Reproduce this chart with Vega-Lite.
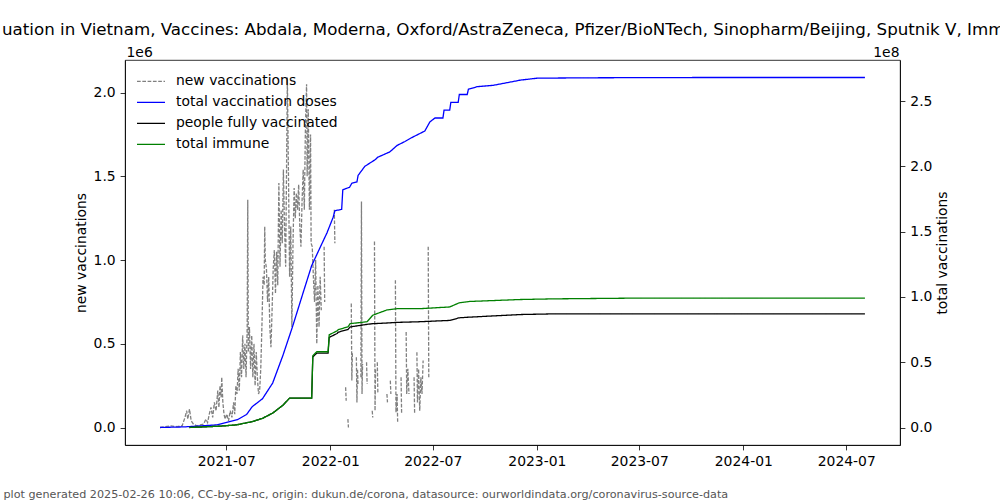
{
  "$schema": "https://vega.github.io/schema/vega-lite/v6.json",
  "width": 775,
  "height": 385,
  "autosize": {"type": "none"},
  "padding": {"left": 125, "top": 60, "right": 100, "bottom": 55},
  "background": "white",
  "title": {
    "text": "uation in Vietnam, Vaccines: Abdala, Moderna, Oxford/AstraZeneca, Pfizer/BioNTech, Sinopharm/Beijing, Sputnik V, Imm",
    "anchor": "start",
    "frame": "group",
    "dx": -123,
    "offset": 6,
    "font": "DejaVu Sans",
    "fontSize": 16.7,
    "fontWeight": "normal",
    "color": "black"
  },
  "datasets": {
    "vax": [
      {"date": "2021-03-06", "series": "new vaccinations", "value": 0},
      {"date": "2021-03-15", "series": "new vaccinations", "value": 5000},
      {"date": "2021-03-25", "series": "new vaccinations", "value": 10000},
      {"date": "2021-04-05", "series": "new vaccinations", "value": 5000},
      {"date": "2021-04-14", "series": "new vaccinations", "value": 10000},
      {"date": "2021-04-16", "series": "new vaccinations", "value": 30000},
      {"date": "2021-04-19", "series": "new vaccinations", "value": 60000},
      {"date": "2021-04-22", "series": "new vaccinations", "value": 100000},
      {"date": "2021-04-24", "series": "new vaccinations", "value": 50000},
      {"date": "2021-04-27", "series": "new vaccinations", "value": 110000},
      {"date": "2021-04-30", "series": "new vaccinations", "value": 40000},
      {"date": "2021-05-04", "series": "new vaccinations", "value": 20000},
      {"date": "2021-05-10", "series": "new vaccinations", "value": 10000},
      {"date": "2021-05-16", "series": "new vaccinations", "value": 15000},
      {"date": "2021-05-22", "series": "new vaccinations", "value": 20000},
      {"date": "2021-05-26", "series": "new vaccinations", "value": 50000},
      {"date": "2021-05-29", "series": "new vaccinations", "value": 30000},
      {"date": "2021-06-01", "series": "new vaccinations", "value": 80000},
      {"date": "2021-06-04", "series": "new vaccinations", "value": 120000},
      {"date": "2021-06-07", "series": "new vaccinations", "value": 60000},
      {"date": "2021-06-10", "series": "new vaccinations", "value": 150000},
      {"date": "2021-06-13", "series": "new vaccinations", "value": 100000},
      {"date": "2021-06-16", "series": "new vaccinations", "value": 220000},
      {"date": "2021-06-18", "series": "new vaccinations", "value": 120000},
      {"date": "2021-06-20", "series": "new vaccinations", "value": 250000},
      {"date": "2021-06-22", "series": "new vaccinations", "value": 180000},
      {"date": "2021-06-23", "series": "new vaccinations", "value": 300000},
      {"date": "2021-06-25", "series": "new vaccinations", "value": 150000},
      {"date": "2021-06-27", "series": "new vaccinations", "value": 80000},
      {"date": "2021-06-29", "series": "new vaccinations", "value": 50000},
      {"date": "2021-07-02", "series": "new vaccinations", "value": 80000},
      {"date": "2021-07-05", "series": "new vaccinations", "value": 40000},
      {"date": "2021-07-08", "series": "new vaccinations", "value": 100000},
      {"date": "2021-07-11", "series": "new vaccinations", "value": 60000},
      {"date": "2021-07-14", "series": "new vaccinations", "value": 150000},
      {"date": "2021-07-16", "series": "new vaccinations", "value": 80000},
      {"date": "2021-07-18", "series": "new vaccinations", "value": 250000},
      {"date": "2021-07-20", "series": "new vaccinations", "value": 200000},
      {"date": "2021-07-22", "series": "new vaccinations", "value": 350000},
      {"date": "2021-07-24", "series": "new vaccinations", "value": 220000},
      {"date": "2021-07-26", "series": "new vaccinations", "value": 450000},
      {"date": "2021-07-28", "series": "new vaccinations", "value": 300000},
      {"date": "2021-07-30", "series": "new vaccinations", "value": 550000},
      {"date": "2021-08-01", "series": "new vaccinations", "value": 350000},
      {"date": "2021-08-03", "series": "new vaccinations", "value": 500000},
      {"date": "2021-08-05", "series": "new vaccinations", "value": 300000},
      {"date": "2021-08-07", "series": "new vaccinations", "value": 600000},
      {"date": "2021-08-08", "series": "new vaccinations", "value": 1360000},
      {"date": "2021-08-09", "series": "new vaccinations", "value": 450000},
      {"date": "2021-08-11", "series": "new vaccinations", "value": 600000},
      {"date": "2021-08-13", "series": "new vaccinations", "value": 350000},
      {"date": "2021-08-15", "series": "new vaccinations", "value": 550000},
      {"date": "2021-08-17", "series": "new vaccinations", "value": 300000},
      {"date": "2021-08-19", "series": "new vaccinations", "value": 500000},
      {"date": "2021-08-21", "series": "new vaccinations", "value": 250000},
      {"date": "2021-08-23", "series": "new vaccinations", "value": 450000},
      {"date": "2021-08-25", "series": "new vaccinations", "value": 300000},
      {"date": "2021-08-27", "series": "new vaccinations", "value": 200000},
      {"date": "2021-08-29", "series": "new vaccinations", "value": 220000},
      {"date": "2021-08-31", "series": "new vaccinations", "value": 350000},
      {"date": "2021-09-02", "series": "new vaccinations", "value": 600000},
      {"date": "2021-09-04", "series": "new vaccinations", "value": 900000},
      {"date": "2021-09-06", "series": "new vaccinations", "value": 850000},
      {"date": "2021-09-07", "series": "new vaccinations", "value": 1200000},
      {"date": "2021-09-08", "series": "new vaccinations", "value": 1000000},
      {"date": "2021-09-10", "series": "new vaccinations", "value": 950000},
      {"date": "2021-09-12", "series": "new vaccinations", "value": 750000},
      {"date": "2021-09-14", "series": "new vaccinations", "value": 900000},
      {"date": "2021-09-16", "series": "new vaccinations", "value": 600000},
      {"date": "2021-09-18", "series": "new vaccinations", "value": 480000},
      {"date": "2021-09-20", "series": "new vaccinations", "value": 700000},
      {"date": "2021-09-22", "series": "new vaccinations", "value": 950000},
      {"date": "2021-09-24", "series": "new vaccinations", "value": 1060000},
      {"date": "2021-09-26", "series": "new vaccinations", "value": 800000},
      {"date": "2021-09-28", "series": "new vaccinations", "value": 1050000},
      {"date": "2021-09-30", "series": "new vaccinations", "value": 850000},
      {"date": "2021-10-02", "series": "new vaccinations", "value": 1460000},
      {"date": "2021-10-04", "series": "new vaccinations", "value": 960000},
      {"date": "2021-10-06", "series": "new vaccinations", "value": 1300000},
      {"date": "2021-10-08", "series": "new vaccinations", "value": 1100000},
      {"date": "2021-10-10", "series": "new vaccinations", "value": 1540000},
      {"date": "2021-10-12", "series": "new vaccinations", "value": 1200000},
      {"date": "2021-10-14", "series": "new vaccinations", "value": 960000},
      {"date": "2021-10-16", "series": "new vaccinations", "value": 1700000},
      {"date": "2021-10-17", "series": "new vaccinations", "value": 2090000},
      {"date": "2021-10-19", "series": "new vaccinations", "value": 1500000},
      {"date": "2021-10-21", "series": "new vaccinations", "value": 900000},
      {"date": "2021-10-23", "series": "new vaccinations", "value": 1200000},
      {"date": "2021-10-25", "series": "new vaccinations", "value": 600000},
      {"date": "2021-10-27", "series": "new vaccinations", "value": 1100000},
      {"date": "2021-10-29", "series": "new vaccinations", "value": 1430000},
      {"date": "2021-10-31", "series": "new vaccinations", "value": 1250000},
      {"date": "2021-11-02", "series": "new vaccinations", "value": 1400000},
      {"date": "2021-11-04", "series": "new vaccinations", "value": 1300000},
      {"date": "2021-11-06", "series": "new vaccinations", "value": 1450000},
      {"date": "2021-11-08", "series": "new vaccinations", "value": 1200000},
      {"date": "2021-11-10", "series": "new vaccinations", "value": 1080000},
      {"date": "2021-11-12", "series": "new vaccinations", "value": 1350000},
      {"date": "2021-11-14", "series": "new vaccinations", "value": 1540000},
      {"date": "2021-11-16", "series": "new vaccinations", "value": 1300000},
      {"date": "2021-11-18", "series": "new vaccinations", "value": 1800000},
      {"date": "2021-11-20", "series": "new vaccinations", "value": 2050000},
      {"date": "2021-11-21", "series": "new vaccinations", "value": 1500000},
      {"date": "2021-11-23", "series": "new vaccinations", "value": 1900000},
      {"date": "2021-11-25", "series": "new vaccinations", "value": 1300000},
      {"date": "2021-11-27", "series": "new vaccinations", "value": 1750000},
      {"date": "2021-11-28", "series": "new vaccinations", "value": 1100000},
      {"date": "2021-11-30", "series": "new vaccinations", "value": 1080000},
      {"date": "2021-12-02", "series": "new vaccinations", "value": 900000},
      {"date": "2021-12-04", "series": "new vaccinations", "value": 750000},
      {"date": "2021-12-06", "series": "new vaccinations", "value": 1000000},
      {"date": "2021-12-08", "series": "new vaccinations", "value": 500000},
      {"date": "2021-12-10", "series": "new vaccinations", "value": 850000},
      {"date": "2021-12-12", "series": "new vaccinations", "value": 600000},
      {"date": "2021-12-14", "series": "new vaccinations", "value": 900000},
      {"date": "2021-12-16", "series": "new vaccinations", "value": 700000},
      {"date": "2021-12-17", "series": "new vaccinations", "value": null},
      {"date": "2021-12-21", "series": "new vaccinations", "value": 1080000},
      {"date": "2021-12-22", "series": "new vaccinations", "value": 750000},
      {"date": "2021-12-23", "series": "new vaccinations", "value": null},
      {"date": "2022-01-08", "series": "new vaccinations", "value": 1300000},
      {"date": "2022-01-09", "series": "new vaccinations", "value": 1100000},
      {"date": "2022-01-10", "series": "new vaccinations", "value": null},
      {"date": "2022-01-28", "series": "new vaccinations", "value": 240000},
      {"date": "2022-01-29", "series": "new vaccinations", "value": 160000},
      {"date": "2022-01-30", "series": "new vaccinations", "value": null},
      {"date": "2022-02-01", "series": "new vaccinations", "value": 50000},
      {"date": "2022-02-02", "series": "new vaccinations", "value": 0},
      {"date": "2022-02-03", "series": "new vaccinations", "value": null},
      {"date": "2022-02-07", "series": "new vaccinations", "value": 740000},
      {"date": "2022-02-08", "series": "new vaccinations", "value": 280000},
      {"date": "2022-02-09", "series": "new vaccinations", "value": 450000},
      {"date": "2022-02-10", "series": "new vaccinations", "value": null},
      {"date": "2022-02-16", "series": "new vaccinations", "value": 420000},
      {"date": "2022-02-17", "series": "new vaccinations", "value": 150000},
      {"date": "2022-02-18", "series": "new vaccinations", "value": 350000},
      {"date": "2022-02-19", "series": "new vaccinations", "value": 250000},
      {"date": "2022-02-20", "series": "new vaccinations", "value": null},
      {"date": "2022-02-24", "series": "new vaccinations", "value": 300000},
      {"date": "2022-02-25", "series": "new vaccinations", "value": 1350000},
      {"date": "2022-02-26", "series": "new vaccinations", "value": 200000},
      {"date": "2022-02-27", "series": "new vaccinations", "value": 380000},
      {"date": "2022-02-28", "series": "new vaccinations", "value": null},
      {"date": "2022-03-06", "series": "new vaccinations", "value": 390000},
      {"date": "2022-03-07", "series": "new vaccinations", "value": 260000},
      {"date": "2022-03-08", "series": "new vaccinations", "value": null},
      {"date": "2022-03-16", "series": "new vaccinations", "value": 100000},
      {"date": "2022-03-17", "series": "new vaccinations", "value": 60000},
      {"date": "2022-03-18", "series": "new vaccinations", "value": null},
      {"date": "2022-03-20", "series": "new vaccinations", "value": 1110000},
      {"date": "2022-03-21", "series": "new vaccinations", "value": 100000},
      {"date": "2022-03-22", "series": "new vaccinations", "value": 350000},
      {"date": "2022-03-23", "series": "new vaccinations", "value": null},
      {"date": "2022-03-25", "series": "new vaccinations", "value": 390000},
      {"date": "2022-03-26", "series": "new vaccinations", "value": 200000},
      {"date": "2022-03-27", "series": "new vaccinations", "value": null},
      {"date": "2022-04-11", "series": "new vaccinations", "value": 200000},
      {"date": "2022-04-12", "series": "new vaccinations", "value": 150000},
      {"date": "2022-04-13", "series": "new vaccinations", "value": null},
      {"date": "2022-04-17", "series": "new vaccinations", "value": 280000},
      {"date": "2022-04-18", "series": "new vaccinations", "value": 200000},
      {"date": "2022-04-19", "series": "new vaccinations", "value": null},
      {"date": "2022-04-26", "series": "new vaccinations", "value": 880000},
      {"date": "2022-04-27", "series": "new vaccinations", "value": 90000},
      {"date": "2022-04-29", "series": "new vaccinations", "value": 200000},
      {"date": "2022-04-30", "series": "new vaccinations", "value": 30000},
      {"date": "2022-05-01", "series": "new vaccinations", "value": null},
      {"date": "2022-05-06", "series": "new vaccinations", "value": 300000},
      {"date": "2022-05-07", "series": "new vaccinations", "value": 80000},
      {"date": "2022-05-08", "series": "new vaccinations", "value": null},
      {"date": "2022-05-15", "series": "new vaccinations", "value": 570000},
      {"date": "2022-05-16", "series": "new vaccinations", "value": 200000},
      {"date": "2022-05-18", "series": "new vaccinations", "value": 350000},
      {"date": "2022-05-20", "series": "new vaccinations", "value": 200000},
      {"date": "2022-05-21", "series": "new vaccinations", "value": null},
      {"date": "2022-05-29", "series": "new vaccinations", "value": 300000},
      {"date": "2022-05-30", "series": "new vaccinations", "value": 80000},
      {"date": "2022-05-31", "series": "new vaccinations", "value": null},
      {"date": "2022-06-03", "series": "new vaccinations", "value": 450000},
      {"date": "2022-06-04", "series": "new vaccinations", "value": 150000},
      {"date": "2022-06-06", "series": "new vaccinations", "value": 350000},
      {"date": "2022-06-08", "series": "new vaccinations", "value": 100000},
      {"date": "2022-06-10", "series": "new vaccinations", "value": 300000},
      {"date": "2022-06-12", "series": "new vaccinations", "value": 200000},
      {"date": "2022-06-14", "series": "new vaccinations", "value": 400000},
      {"date": "2022-06-15", "series": "new vaccinations", "value": null},
      {"date": "2022-06-23", "series": "new vaccinations", "value": 1080000},
      {"date": "2022-06-24", "series": "new vaccinations", "value": 300000},

      {"date": "2021-03-06", "series": "total vaccination doses", "value": 0},
      {"date": "2021-04-19", "series": "total vaccination doses", "value": 500000},
      {"date": "2021-06-14", "series": "total vaccination doses", "value": 2000000},
      {"date": "2021-07-02", "series": "total vaccination doses", "value": 4000000},
      {"date": "2021-07-21", "series": "total vaccination doses", "value": 6000000},
      {"date": "2021-08-06", "series": "total vaccination doses", "value": 10000000},
      {"date": "2021-08-16", "series": "total vaccination doses", "value": 16000000},
      {"date": "2021-09-03", "series": "total vaccination doses", "value": 22000000},
      {"date": "2021-09-21", "series": "total vaccination doses", "value": 34000000},
      {"date": "2021-10-09", "series": "total vaccination doses", "value": 55000000},
      {"date": "2021-10-26", "series": "total vaccination doses", "value": 77000000},
      {"date": "2021-11-13", "series": "total vaccination doses", "value": 102000000},
      {"date": "2021-11-29", "series": "total vaccination doses", "value": 124000000},
      {"date": "2021-12-13", "series": "total vaccination doses", "value": 137000000},
      {"date": "2021-12-26", "series": "total vaccination doses", "value": 149000000},
      {"date": "2022-01-06", "series": "total vaccination doses", "value": 161000000},
      {"date": "2022-01-09", "series": "total vaccination doses", "value": 166000000},
      {"date": "2022-01-21", "series": "total vaccination doses", "value": 167000000},
      {"date": "2022-01-23", "series": "total vaccination doses", "value": 182000000},
      {"date": "2022-02-04", "series": "total vaccination doses", "value": 184000000},
      {"date": "2022-02-08", "series": "total vaccination doses", "value": 187000000},
      {"date": "2022-02-17", "series": "total vaccination doses", "value": 188000000},
      {"date": "2022-02-19", "series": "total vaccination doses", "value": 193000000},
      {"date": "2022-03-03", "series": "total vaccination doses", "value": 200000000},
      {"date": "2022-03-21", "series": "total vaccination doses", "value": 205000000},
      {"date": "2022-03-26", "series": "total vaccination doses", "value": 207000000},
      {"date": "2022-04-16", "series": "total vaccination doses", "value": 211000000},
      {"date": "2022-04-29", "series": "total vaccination doses", "value": 216000000},
      {"date": "2022-05-13", "series": "total vaccination doses", "value": 219000000},
      {"date": "2022-05-25", "series": "total vaccination doses", "value": 222000000},
      {"date": "2022-06-17", "series": "total vaccination doses", "value": 227000000},
      {"date": "2022-06-26", "series": "total vaccination doses", "value": 234000000},
      {"date": "2022-07-05", "series": "total vaccination doses", "value": 237000000},
      {"date": "2022-07-19", "series": "total vaccination doses", "value": 237000000},
      {"date": "2022-07-21", "series": "total vaccination doses", "value": 243000000},
      {"date": "2022-07-31", "series": "total vaccination doses", "value": 243000000},
      {"date": "2022-08-02", "series": "total vaccination doses", "value": 249000000},
      {"date": "2022-08-15", "series": "total vaccination doses", "value": 249000000},
      {"date": "2022-08-17", "series": "total vaccination doses", "value": 255000000},
      {"date": "2022-08-31", "series": "total vaccination doses", "value": 255000000},
      {"date": "2022-09-02", "series": "total vaccination doses", "value": 259000000},
      {"date": "2022-09-18", "series": "total vaccination doses", "value": 261000000},
      {"date": "2022-10-16", "series": "total vaccination doses", "value": 262000000},
      {"date": "2022-12-03", "series": "total vaccination doses", "value": 266000000},
      {"date": "2023-01-02", "series": "total vaccination doses", "value": 267500000},
      {"date": "2023-04-23", "series": "total vaccination doses", "value": 267800000},
      {"date": "2023-10-19", "series": "total vaccination doses", "value": 268000000},
      {"date": "2024-08-03", "series": "total vaccination doses", "value": 268000000},

      {"date": "2021-04-27", "series": "people fully vaccinated", "value": 0},
      {"date": "2021-06-19", "series": "people fully vaccinated", "value": 1000000},
      {"date": "2021-07-19", "series": "people fully vaccinated", "value": 2000000},
      {"date": "2021-08-16", "series": "people fully vaccinated", "value": 4500000},
      {"date": "2021-09-03", "series": "people fully vaccinated", "value": 7000000},
      {"date": "2021-09-21", "series": "people fully vaccinated", "value": 11000000},
      {"date": "2021-10-09", "series": "people fully vaccinated", "value": 17000000},
      {"date": "2021-10-21", "series": "people fully vaccinated", "value": 22500000},
      {"date": "2021-11-29", "series": "people fully vaccinated", "value": 22500000},
      {"date": "2021-12-01", "series": "people fully vaccinated", "value": 54000000},
      {"date": "2021-12-08", "series": "people fully vaccinated", "value": 57000000},
      {"date": "2021-12-28", "series": "people fully vaccinated", "value": 57000000},
      {"date": "2021-12-30", "series": "people fully vaccinated", "value": 69000000},
      {"date": "2022-01-13", "series": "people fully vaccinated", "value": 72000000},
      {"date": "2022-01-15", "series": "people fully vaccinated", "value": 73000000},
      {"date": "2022-02-01", "series": "people fully vaccinated", "value": 75000000},
      {"date": "2022-02-05", "series": "people fully vaccinated", "value": 77000000},
      {"date": "2022-03-07", "series": "people fully vaccinated", "value": 79000000},
      {"date": "2022-03-17", "series": "people fully vaccinated", "value": 79500000},
      {"date": "2022-04-11", "series": "people fully vaccinated", "value": 80000000},
      {"date": "2022-04-29", "series": "people fully vaccinated", "value": 80500000},
      {"date": "2022-06-09", "series": "people fully vaccinated", "value": 81000000},
      {"date": "2022-07-31", "series": "people fully vaccinated", "value": 82000000},
      {"date": "2022-08-17", "series": "people fully vaccinated", "value": 84000000},
      {"date": "2022-09-04", "series": "people fully vaccinated", "value": 84500000},
      {"date": "2022-12-03", "series": "people fully vaccinated", "value": 86500000},
      {"date": "2023-01-30", "series": "people fully vaccinated", "value": 87000000},
      {"date": "2024-08-03", "series": "people fully vaccinated", "value": 87000000},

      {"date": "2021-04-27", "series": "total immune", "value": 0},
      {"date": "2021-06-19", "series": "total immune", "value": 1000000},
      {"date": "2021-07-19", "series": "total immune", "value": 2000000},
      {"date": "2021-08-16", "series": "total immune", "value": 4500000},
      {"date": "2021-09-03", "series": "total immune", "value": 7000000},
      {"date": "2021-09-21", "series": "total immune", "value": 11000000},
      {"date": "2021-10-09", "series": "total immune", "value": 17000000},
      {"date": "2021-10-21", "series": "total immune", "value": 22500000},
      {"date": "2021-11-29", "series": "total immune", "value": 22500000},
      {"date": "2021-12-01", "series": "total immune", "value": 55000000},
      {"date": "2021-12-08", "series": "total immune", "value": 58000000},
      {"date": "2021-12-28", "series": "total immune", "value": 58000000},
      {"date": "2021-12-30", "series": "total immune", "value": 71000000},
      {"date": "2022-01-13", "series": "total immune", "value": 74000000},
      {"date": "2022-01-15", "series": "total immune", "value": 75000000},
      {"date": "2022-02-01", "series": "total immune", "value": 77000000},
      {"date": "2022-02-05", "series": "total immune", "value": 79500000},
      {"date": "2022-03-07", "series": "total immune", "value": 81000000},
      {"date": "2022-03-17", "series": "total immune", "value": 86000000},
      {"date": "2022-04-11", "series": "total immune", "value": 90000000},
      {"date": "2022-04-29", "series": "total immune", "value": 91000000},
      {"date": "2022-06-09", "series": "total immune", "value": 91000000},
      {"date": "2022-07-31", "series": "total immune", "value": 92300000},
      {"date": "2022-08-17", "series": "total immune", "value": 95500000},
      {"date": "2022-09-04", "series": "total immune", "value": 96500000},
      {"date": "2022-12-03", "series": "total immune", "value": 98000000},
      {"date": "2023-01-30", "series": "total immune", "value": 98500000},
      {"date": "2023-06-08", "series": "total immune", "value": 99000000},
      {"date": "2024-08-03", "series": "total immune", "value": 99000000}
    ]
  },
  "data": {"name": "vax"},
  "encoding": {
    "x": {
      "field": "date",
      "type": "temporal",
      "scale": {
        "type": "utc",
        "domain": [
          {"year": 2021, "month": 1, "date": 3, "utc": true},
          {"year": 2024, "month": 10, "date": 4, "utc": true}
        ]
      },
      "axis": {
        "values": [
          {"year": 2021, "month": 7, "date": 1, "utc": true},
          {"year": 2022, "month": 1, "date": 1, "utc": true},
          {"year": 2022, "month": 7, "date": 1, "utc": true},
          {"year": 2023, "month": 1, "date": 1, "utc": true},
          {"year": 2023, "month": 7, "date": 1, "utc": true},
          {"year": 2024, "month": 1, "date": 1, "utc": true},
          {"year": 2024, "month": 7, "date": 1, "utc": true}
        ],
        "labelExpr": "utcFormat(datum.value, '%Y-%m')",
        "labelFlush": false,
        "labelOverlap": false,
        "title": "plot generated 2025-02-26 10:06, CC-by-sa-nc, origin: dukun.de/corona, datasource: ourworldindata.org/coronavirus-source-data",
        "titleX": -122,
        "titleY": 49,
        "titleAlign": "left",
        "titleBaseline": "middle",
        "titleFontSize": 11.2,
        "titleColor": "#555555"
      }
    },
    "color": {
      "field": "series",
      "type": "nominal",
      "scale": {
        "domain": ["new vaccinations", "total vaccination doses", "people fully vaccinated", "total immune"],
        "range": ["#808080", "#0000ff", "#000000", "#008000"]
      },
      "legend": {"title": null, "orient": "top-left"}
    },
    "strokeDash": {
      "field": "series",
      "type": "nominal",
      "scale": {
        "domain": ["new vaccinations", "total vaccination doses", "people fully vaccinated", "total immune"],
        "range": [[3.7, 1.6], [1, 0], [1, 0], [1, 0]]
      },
      "legend": {"title": null, "orient": "top-left"}
    }
  },
  "layer": [
    {
      "layer": [
        {
          "transform": [{"filter": "datum.series === 'new vaccinations'"}],
          "mark": {"type": "line", "strokeWidth": 1.3, "invalid": "break-paths-show-domains"},
          "encoding": {
            "y": {
              "field": "value",
              "type": "quantitative",
              "scale": {"domain": [-104500, 2194500], "nice": false, "zero": false},
              "axis": {
                "orient": "left",
                "values": [0, 500000, 1000000, 1500000, 2000000],
                "labelExpr": "format(datum.value / 1000000, '.1f')",
                "title": "new vaccinations",
                "titlePadding": 5
              }
            }
          }
        },
        {
          "transform": [{"filter": "false"}],
          "mark": {"type": "line"},
          "encoding": {
            "y": {
              "field": "value",
              "type": "quantitative",
              "axis": {
                "orient": "left",
                "title": "1e6",
                "titleAngle": 0,
                "titleAlign": "left",
                "titleBaseline": "alphabetic",
                "titleX": 1,
                "titleY": -4,
                "labels": false,
                "ticks": false,
                "domain": false
              }
            }
          }
        }
      ],
      "resolve": {"axis": {"y": "independent"}}
    },
    {
      "layer": [
        {
          "transform": [{"filter": "datum.series === 'total vaccination doses'"}],
          "mark": {"type": "line", "strokeWidth": 1.3},
          "encoding": {
            "y": {
              "field": "value",
              "type": "quantitative",
              "scale": {"domain": [-13400000, 281400000], "nice": false, "zero": false},
              "axis": {
                "orient": "right",
                "values": [0, 50000000, 100000000, 150000000, 200000000, 250000000],
                "labelExpr": "format(datum.value / 100000000, '.1f')",
                "title": "total vaccinations",
                "titleAngle": 270,
                "titlePadding": 18
              }
            }
          }
        },
        {
          "transform": [{"filter": "datum.series === 'people fully vaccinated'"}],
          "mark": {"type": "line", "strokeWidth": 1.3},
          "encoding": {
            "y": {"field": "value", "type": "quantitative", "axis": null}
          }
        },
        {
          "transform": [{"filter": "datum.series === 'total immune'"}],
          "mark": {"type": "line", "strokeWidth": 1.3},
          "encoding": {
            "y": {"field": "value", "type": "quantitative", "axis": null}
          }
        },
        {
          "transform": [{"filter": "false"}],
          "mark": {"type": "line"},
          "encoding": {
            "y": {
              "field": "value",
              "type": "quantitative",
              "axis": {
                "orient": "right",
                "title": "1e8",
                "titleAngle": 0,
                "titleAlign": "right",
                "titleBaseline": "alphabetic",
                "titleX": -1,
                "titleY": -4,
                "labels": false,
                "ticks": false,
                "domain": false
              }
            }
          }
        }
      ],
      "resolve": {"axis": {"y": "independent"}}
    }
  ],
  "resolve": {"scale": {"y": "independent"}},
  "config": {
    "view": {"stroke": "black", "strokeWidth": 0.8},
    "font": "DejaVu Sans",
    "axis": {
      "grid": false,
      "domainColor": "black",
      "domainWidth": 0.8,
      "tickColor": "black",
      "tickWidth": 0.8,
      "tickSize": 4.9,
      "labelPadding": 4.9,
      "labelFont": "DejaVu Sans",
      "labelFontSize": 13.9,
      "labelColor": "black",
      "titleFont": "DejaVu Sans",
      "titleFontSize": 13.9,
      "titleFontWeight": "normal",
      "titleColor": "black"
    },
    "legend": {
      "symbolType": "stroke",
      "symbolSize": 784,
      "symbolStrokeWidth": 1.3,
      "clipHeight": 20.7,
      "rowPadding": 0,
      "labelOffset": 10,
      "labelLimit": 400,
      "labelFont": "DejaVu Sans",
      "labelFontSize": 13.9,
      "labelColor": "black",
      "offset": 11,
      "padding": 0
    }
  }
}
